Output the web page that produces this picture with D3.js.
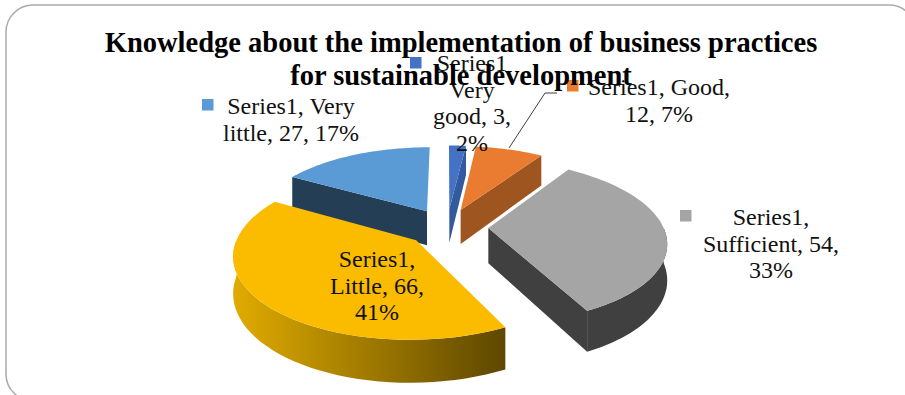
<!DOCTYPE html>
<html>
<head>
<meta charset="utf-8">
<script src="https://cdn.jsdelivr.net/npm/d3@7"></script>
<style>
html,body{margin:0;padding:0;background:#fff;overflow:hidden}
svg{display:block}
text{font-family:"Liberation Serif",serif;white-space:pre}
</style>
</head>
<body>
<div id="chart"></div>
<script>
var seriesName = "Series1";
var categories = ["Very good", "Good", "Sufficient", "Little", "Very little"];
var values = [3, 12, 54, 66, 27];
var percents = ["2%", "7%", "33%", "41%", "17%"];
var titleLines = ["Knowledge about the implementation of business practices", "for sustainable development"];

// colours by slice: top face, side face
var topColors = ["#4472c4", "#e97c30", "#a5a5a5", "#fbbc00", "#5b9bd5"];
var sideColors = ["#335a9e", "#9e551f", "#404040", "#8a6800", "#243f55"];

// how each data label wraps in the original, and where it sits
var labelWraps = [
  [seriesName, "Very", "good, 3,", percents[0]],
  [seriesName + ", Good,", "12, " + percents[1]],
  [seriesName + ",", "Sufficient, 54,", percents[2]],
  [seriesName + ",", "Little, 66,", percents[3]],
  [seriesName + ", Very", "little, 27, " + percents[4]]
];
var labelCenters = [[472, 71], [659, 95], [771, 225], [377, 267], [291, 114]];
var keyBoxes = [[410, 57], [567, 80], [680, 210], [308, 251], [202, 99]];

var width = 905, height = 395;
var cx = 447, cy = 227, R = 175, tiltY = 79, persp = 0.16, depth = 35, explode = 0.236;

var svg = d3.select("#chart").append("svg")
  .attr("width", width)
  .attr("height", height);

var defs = svg.append("defs");
var wallGrad = defs.append("linearGradient")
  .attr("id", "little-wall")
  .attr("gradientUnits", "userSpaceOnUse")
  .attr("x1", 234).attr("x2", 502).attr("y1", 0).attr("y2", 0);
wallGrad.append("stop").attr("offset", "0%").attr("stop-color", "#e0ab00");
wallGrad.append("stop").attr("offset", "100%").attr("stop-color", "#5f4800");

svg.append("rect")
  .attr("x", 6).attr("y", 5)
  .attr("width", 910).attr("height", 396)
  .attr("rx", 27).attr("ry", 27)
  .attr("fill", "#fff")
  .attr("stroke", "#aaa")
  .attr("stroke-width", 1.5);

var pie = d3.pie().sort(null).value(function(d) { return d; });
var slices = pie(values);

// perspective projection of a point on the pie plane
function project(wx, wy, drop) {
  var s = 1 / (1 + persp * wy);
  return [cx + R * wx * s, cy - tiltY * wy * s + (drop || 0) * s];
}

function rimPoint(d, a, drop) {
  var mid = (d.startAngle + d.endAngle) / 2;
  var ox = explode * Math.sin(mid), oy = explode * Math.cos(mid);
  return project(ox + Math.sin(a), oy + Math.cos(a), drop);
}

function apexPoint(d, drop) {
  var mid = (d.startAngle + d.endAngle) / 2;
  return project(explode * Math.sin(mid), explode * Math.cos(mid), drop);
}

function arcPoints(d, a0, a1, drop) {
  return d3.range(0, 41).map(function(i) {
    return rimPoint(d, a0 + (a1 - a0) * i / 40, drop);
  });
}

var line = d3.line();

function topPath(d) {
  return line([apexPoint(d)].concat(arcPoints(d, d.startAngle, d.endAngle))) + "Z";
}

function cutPath(d, a) {
  return line([apexPoint(d), rimPoint(d, a), rimPoint(d, a, depth), apexPoint(d, depth)]) + "Z";
}

function wallPath(d, a0, a1) {
  return line(arcPoints(d, a0, a1).concat(arcPoints(d, a0, a1, depth).reverse())) + "Z";
}

// back to front
var drawOrder = [4, 0, 1, 2, 3];
var sliceGroup = svg.append("g");

drawOrder.forEach(function(i) {
  var d = slices[i];
  var g = sliceGroup.append("g");
  if (d.endAngle < Math.PI) {
    g.append("path").attr("d", cutPath(d, d.endAngle)).attr("fill", sideColors[i]);
  }
  if (d.startAngle > Math.PI) {
    g.append("path").attr("d", cutPath(d, d.startAngle)).attr("fill", sideColors[i]);
  }
  var a0 = Math.max(d.startAngle, Math.PI / 2), a1 = Math.min(d.endAngle, Math.PI * 1.5);
  if (a1 > a0) {
    g.append("path")
      .attr("d", wallPath(d, a0, a1))
      .attr("fill", i == 3 ? "url(#little-wall)" : sideColors[i]);
  }
  g.append("path").attr("d", topPath(d)).attr("fill", topColors[i]);
});

// leader line for Good
svg.append("path")
  .attr("d", line([[557, 93], [545, 93], [509, 148]]))
  .attr("fill", "none")
  .attr("stroke", "#404040")
  .attr("stroke-width", 1);

var labels = svg.append("g");

categories.forEach(function(c, i) {
  labels.append("rect")
    .attr("x", keyBoxes[i][0]).attr("y", keyBoxes[i][1])
    .attr("width", 11.5).attr("height", 11.5)
    .attr("fill", topColors[i]);
  labels.append("g").selectAll("text")
    .data(labelWraps[i]).enter()
    .append("text")
      .attr("x", labelCenters[i][0])
      .attr("y", function(d, j) { return labelCenters[i][1] + j * 26.7; })
      .attr("text-anchor", "middle")
      .attr("font-size", 24)
      .attr("fill", "#111")
      .text(function(d) { return d; });
});

svg.append("g").selectAll("text")
  .data(titleLines).enter()
  .append("text")
    .attr("x", 461)
    .attr("y", function(d, i) { return 52 + i * 33; })
    .attr("text-anchor", "middle")
    .attr("font-size", 28.5)
    .attr("font-weight", "bold")
    .attr("fill", "#000")
    .text(function(d) { return d; });
</script>
</body>
</html>
